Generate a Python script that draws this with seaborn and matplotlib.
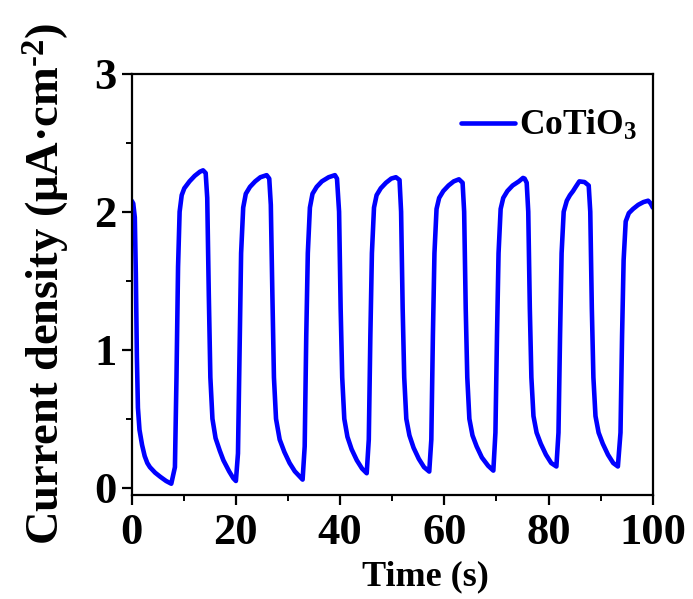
import matplotlib
matplotlib.use("Agg")
import matplotlib.pyplot as plt
from matplotlib.ticker import MultipleLocator
import seaborn as sns
import pandas as pd

# ---- data (time in s, current density in uA/cm^2) ----
time_s = [
    0.0, 0.3, 0.6, 0.8, 1.0, 1.2, 1.5, 2.0, 2.5, 3.0, 3.5, 4.5, 5.5, 6.6, 7.6,
    8.3, 8.6, 8.9, 9.2, 9.6, 10.1, 11.1, 12.1, 13.1, 13.7, 14.2,
    14.5, 14.8, 15.1, 15.5, 16.1, 16.9, 17.6, 18.7, 19.5, 20.0,
    20.4, 20.7, 21.0, 21.4, 21.9, 22.7, 23.7, 24.7, 25.9, 26.4,
    26.7, 27.0, 27.3, 27.7, 28.4, 29.3, 30.3, 31.3, 32.3, 32.8,
    33.2, 33.5, 33.8, 34.2, 34.7, 35.5, 36.5, 37.8, 39.0, 39.4,
    39.8, 40.1, 40.4, 40.8, 41.4, 42.2, 43.2, 44.2, 45.1,
    45.5, 45.8, 46.1, 46.5, 47.0, 47.8, 48.8, 49.8, 50.7, 51.4,
    51.7, 52.0, 52.3, 52.7, 53.3, 54.1, 55.1, 56.1, 57.1,
    57.5, 57.8, 58.1, 58.5, 59.0, 59.8, 60.8, 61.8, 62.8, 63.5,
    63.8, 64.1, 64.4, 64.8, 65.4, 66.2, 67.2, 68.4, 69.4,
    69.8, 70.1, 70.4, 70.8, 71.3, 72.1, 73.1, 74.3, 75.1, 75.4, 75.8,
    76.1, 76.4, 76.7, 77.1, 77.7, 78.5, 79.5, 80.5, 81.5,
    81.9, 82.2, 82.5, 82.9, 83.5, 84.1, 84.7, 85.2, 85.9, 86.9, 87.7,
    88.0, 88.3, 88.6, 89.0, 89.6, 90.4, 91.4, 92.4, 93.3,
    93.8, 94.1, 94.4, 94.8, 95.4, 96.2, 97.2, 98.2, 99.1, 99.6, 100.0,
]
current_density = [
    2.08, 2.06, 1.96, 1.55, 0.95, 0.58, 0.42, 0.31, 0.23, 0.18, 0.15, 0.11, 0.08, 0.05, 0.03,
    0.15, 0.80, 1.60, 2.00, 2.12, 2.17, 2.22, 2.26, 2.29, 2.30, 2.28,
    2.10, 1.40, 0.80, 0.50, 0.36, 0.27, 0.20, 0.12, 0.07, 0.05,
    0.25, 1.00, 1.70, 2.03, 2.13, 2.18, 2.22, 2.25, 2.265, 2.24,
    2.05, 1.40, 0.80, 0.50, 0.35, 0.26, 0.18, 0.12, 0.08, 0.06,
    0.30, 1.10, 1.70, 2.03, 2.13, 2.18, 2.22, 2.25, 2.265, 2.24,
    2.00, 1.30, 0.80, 0.50, 0.37, 0.28, 0.20, 0.14, 0.106,
    0.35, 1.10, 1.70, 2.03, 2.12, 2.17, 2.21, 2.24, 2.25, 2.23,
    2.00, 1.30, 0.80, 0.50, 0.38, 0.29, 0.21, 0.15, 0.118,
    0.35, 1.10, 1.70, 2.02, 2.10, 2.15, 2.19, 2.22, 2.235, 2.21,
    2.00, 1.30, 0.80, 0.50, 0.38, 0.30, 0.22, 0.16, 0.125,
    0.40, 1.10, 1.70, 2.02, 2.10, 2.15, 2.19, 2.22, 2.245, 2.24, 2.21,
    2.00, 1.30, 0.80, 0.52, 0.40, 0.32, 0.24, 0.18, 0.155,
    0.40, 1.10, 1.70, 2.00, 2.08, 2.12, 2.15, 2.18, 2.22, 2.215, 2.19,
    2.00, 1.30, 0.80, 0.52, 0.40, 0.32, 0.24, 0.18, 0.155,
    0.40, 1.10, 1.65, 1.93, 1.99, 2.02, 2.05, 2.07, 2.08, 2.06, 2.03,
]
series_name = "CoTiO$_3$"
x_ticks = [0, 20, 40, 60, 80, 100]
y_ticks = [0, 1, 2, 3]

df = pd.DataFrame({"Time": time_s, "Current": current_density,
                   "Sample": [series_name] * len(time_s)})

sns.set_style("ticks")
plt.rcParams["font.family"] = ["Liberation Serif", "DejaVu Serif"]
plt.rcParams["font.weight"] = "bold"
plt.rcParams["mathtext.default"] = "regular"
for key in ("text.color", "axes.labelcolor", "xtick.color", "ytick.color",
            "axes.edgecolor"):
    plt.rcParams[key] = "black"

fig = plt.figure(figsize=(6.93, 5.99), dpi=100)
ax = fig.add_axes([0.190, 0.174, 0.752, 0.703])

sns.lineplot(data=df, x="Time", y="Current", hue="Sample", palette=["#0000FF"],
             linewidth=3.3, ax=ax, sort=False, estimator=None)

ax.set_xlim(0, 100)
ax.set_ylim(-0.05, 3)
ax.set_xticks(x_ticks)
ax.set_yticks(y_ticks)
ax.xaxis.set_minor_locator(MultipleLocator(10))
ax.yaxis.set_minor_locator(MultipleLocator(0.5))
ax.tick_params(which="major", direction="out", length=7, width=1.6,
               labelsize=32, pad=4, colors="black")
ax.tick_params(which="minor", direction="out", length=4, width=1.4,
               colors="black")
ax.tick_params(axis="x", which="major", pad=6)
for lab in ax.get_xticklabels() + ax.get_yticklabels():
    lab.set_fontweight("bold")
for sp in ax.spines.values():
    sp.set_linewidth(1.6)
    sp.set_color("black")

ax.set_xlabel("Time (s)", fontsize=26, fontweight="bold")
ax.xaxis.set_label_coords(0.563, -0.155)
ax.set_ylabel("Current density (μA·cm$^{‐2}$)", fontsize=33.5,
              fontweight="bold", labelpad=16)

leg = ax.legend(loc="upper right", frameon=False, fontsize=25.5,
                handlelength=1.5, handletextpad=0.12,
                bbox_to_anchor=(1.017, 0.975), borderaxespad=0.3)
for t in leg.get_texts():
    t.set_fontweight("bold")
    t.set_color("black")

fig.savefig("out.png", dpi=100)
